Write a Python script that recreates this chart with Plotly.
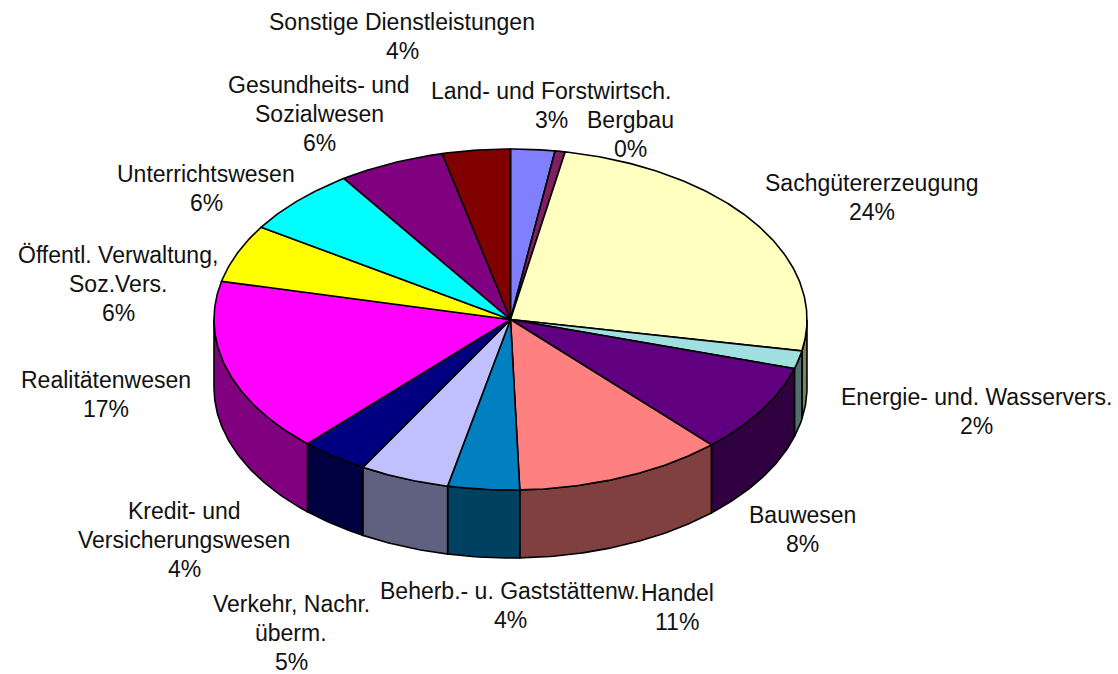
import numpy as np
import plotly.graph_objects as go

# --- data -------------------------------------------------------------
categories = ["Land- und Forstwirtsch.", "Bergbau", "Sachgütererzeugung",
              "Energie- und. Wasservers.", "Bauwesen", "Handel",
              "Beherb.- u. Gaststättenw.", "Verkehr, Nachr.\nüberm.",
              "Kredit- und\nVersicherungswesen", "Realitätenwesen",
              "Öffentl. Verwaltung,\nSoz.Vers.", "Unterrichtswesen",
              "Gesundheits- und\nSozialwesen", "Sonstige Dienstleistungen"]
values = [2.4, 0.55, 25.0, 1.7, 8.5, 11.35, 3.9, 4.9, 3.7, 16.6, 5.5, 6.4, 5.8, 3.7]
percent_labels = ["3%", "0%", "24%", "2%", "8%", "11%", "4%", "5%", "4%", "17%",
                  "6%", "6%", "6%", "4%"]
top_colors = ["#8080FF", "#802060", "#FFFFC0", "#A0E0E0", "#600080", "#FF8080",
              "#0080C0", "#C0C0FF", "#000080", "#FF00FF", "#FFFF00", "#00FFFF",
              "#800080", "#800000"]
side_colors = ["#404080", "#401030", "#808060", "#507070", "#300040", "#804040",
               "#004060", "#606080", "#000040", "#800080", "#808000", "#008080",
               "#400040", "#400000"]

# --- layout of the picture (pixels) ------------------------------------
CX, CY, RX, RY, DEPTH = 510.5, 319.5, 296.5, 170.5, 68
LINE_PITCH = 29
label_anchor = [(551, 91), (630, 120), (872, 183), (976, 397), (802, 515),
                (677, 593), (510, 591), (291, 604), (184, 511), (106, 380),
                (118, 255), (206, 174), (319, 85), (402, 22)]

total = sum(values)
edges = np.cumsum([0] + values) / total * 2 * np.pi


def rim(t, dy=0):
    return CX + RX * np.sin(t), CY - RY * np.cos(t) + dy


def arc(a, b):
    n = max(int(abs(b - a) * 90), 2)
    return np.linspace(a, b, n)


fig = go.Figure()
LINE = dict(color="black", width=1.6)


def poly(xs, ys, color):
    fig.add_trace(go.Scatter(x=xs, y=ys, mode="lines", fill="toself", fillcolor=color,
                             line=LINE, hoverinfo="skip", showlegend=False))


# side walls, only the front half of the cake shows
for i in range(len(values)):
    a = max(edges[i], np.pi / 2)
    b = min(edges[i + 1], 3 * np.pi / 2)
    if b <= a:
        continue
    t = arc(a, b)
    xt, yt = rim(t)
    xb, yb = rim(t[::-1], DEPTH)
    poly(list(xt) + list(xb) + [xt[0]], list(yt) + list(yb) + [yt[0]], side_colors[i])

# top faces
for i in range(len(values)):
    t = arc(edges[i], edges[i + 1])
    xt, yt = rim(t)
    poly([CX] + list(xt) + [CX], [CY] + list(yt) + [CY], top_colors[i])

# labels, one annotation per line to keep the original line pitch
for name, pct, (ax, ay) in zip(categories, percent_labels, label_anchor):
    for k, line in enumerate(name.split("\n") + [pct]):
        fig.add_annotation(x=ax, y=ay + k * LINE_PITCH, text=line, showarrow=False,
                           xanchor="center", yanchor="middle",
                           font=dict(family="Liberation Sans, Arial", size=23, color="#111111"))

fig.update_layout(
    width=1118, height=674, margin=dict(l=0, r=0, t=0, b=0),
    paper_bgcolor="white", plot_bgcolor="white", showlegend=False,
    xaxis=dict(range=[0, 1118], visible=False, fixedrange=True),
    yaxis=dict(range=[674, 0], visible=False, fixedrange=True),
)
fig.write_html("out.html", config={"displayModeBar": False},
               post_script="document.body.style.margin='0';document.body.style.overflow='hidden';")
